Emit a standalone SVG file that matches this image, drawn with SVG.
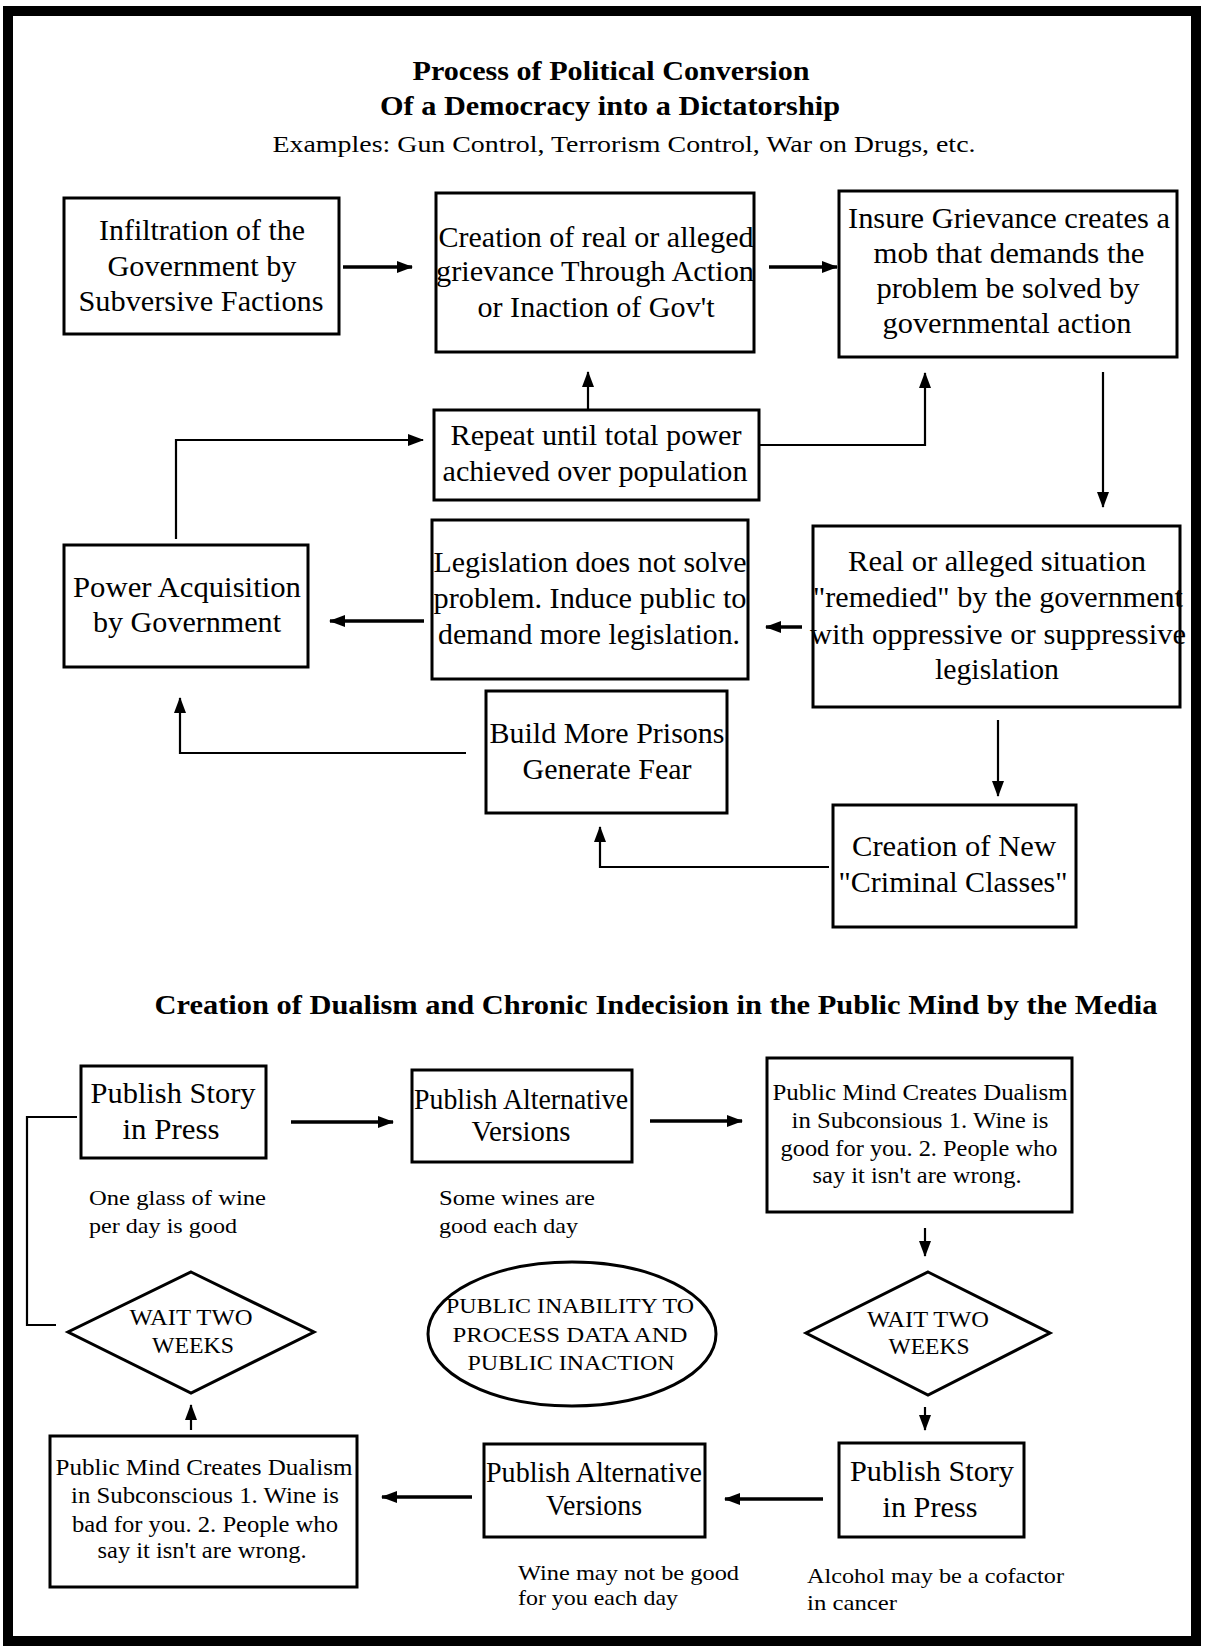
<svg xmlns="http://www.w3.org/2000/svg" width="1209" height="1646" viewBox="0 0 1209 1646">
<style>
text{font-family:"Liberation Serif","Times New Roman",serif;fill:#000}
.t{text-anchor:middle}
.b{font-size:29px}
.s{font-size:24px}
.c{font-size:22px}
.h{font-weight:bold}
.box{fill:#fff;stroke:#000;stroke-width:3}
.ln{fill:none;stroke:#000;stroke-width:2.2}
.thk{stroke-width:3.5}
</style>
<defs>
<marker id="ah" viewBox="0 0 16 12" refX="15" refY="6" markerWidth="16" markerHeight="12" markerUnits="userSpaceOnUse" orient="auto">
<path d="M0,0 L16,6 L0,12 z" fill="#000"/>
</marker>
</defs>
<rect x="0" y="0" width="1209" height="1646" fill="#fff"/>
<rect x="8" y="11" width="1188" height="1630" fill="none" stroke="#000" stroke-width="10"/>

<g id="titles">
<text class="t h" x="611" y="80" font-size="27" textLength="397" lengthAdjust="spacingAndGlyphs">Process of Political Conversion</text>
<text class="t h" x="610" y="115" font-size="27" textLength="460" lengthAdjust="spacingAndGlyphs">Of a Democracy into a Dictatorship</text>
<text class="t" x="624" y="152" font-size="23" textLength="703" lengthAdjust="spacingAndGlyphs">Examples: Gun Control, Terrorism Control, War on Drugs, etc.</text>
<text class="t h" x="656" y="1014" font-size="28" textLength="1003" lengthAdjust="spacingAndGlyphs">Creation of Dualism and Chronic Indecision in the Public Mind by the Media</text>
</g>

<g id="connectors">
<path class="ln thk" d="M343,267 H412" marker-end="url(#ah)"/>
<path class="ln thk" d="M769,267 H837" marker-end="url(#ah)"/>
<path class="ln" d="M588,410 V372" marker-end="url(#ah)"/>
<path class="ln" d="M759,445 H925 V373" marker-end="url(#ah)"/>
<path class="ln" d="M1103,372 V507" marker-end="url(#ah)"/>
<path class="ln" d="M176,539 V440 H423" marker-end="url(#ah)"/>
<path class="ln thk" d="M424,621 H330" marker-end="url(#ah)"/>
<path class="ln thk" d="M802,627 H766" marker-end="url(#ah)"/>
<path class="ln" d="M466,753 H180 V698" marker-end="url(#ah)"/>
<path class="ln" d="M998,720 V796" marker-end="url(#ah)"/>
<path class="ln" d="M829,867 H600 V827" marker-end="url(#ah)"/>
<path class="ln thk" d="M291,1122 H393" marker-end="url(#ah)"/>
<path class="ln thk" d="M650,1121 H742" marker-end="url(#ah)"/>
<path class="ln" d="M925,1228 V1256" marker-end="url(#ah)"/>
<path class="ln" d="M77,1117 H27 V1325 H56"/>
<path class="ln" d="M925,1407 V1430" marker-end="url(#ah)"/>
<path class="ln thk" d="M823,1499 H725" marker-end="url(#ah)"/>
<path class="ln thk" d="M472,1497 H382" marker-end="url(#ah)"/>
<path class="ln" d="M191,1430 V1405" marker-end="url(#ah)"/>
</g>

<g id="infiltration">
<rect class="box" x="64" y="198" width="275" height="136"/>
<text class="t b" x="202" y="240" textLength="206" lengthAdjust="spacingAndGlyphs">Infiltration of the</text>
<text class="t b" x="202" y="276" textLength="189" lengthAdjust="spacingAndGlyphs">Government by</text>
<text class="t b" x="201" y="311" textLength="245" lengthAdjust="spacingAndGlyphs">Subversive Factions</text>
</g>

<g id="creation-grievance">
<rect class="box" x="436" y="193" width="318" height="159"/>
<text class="t b" x="596" y="247" textLength="315" lengthAdjust="spacingAndGlyphs">Creation of real or alleged</text>
<text class="t b" x="595" y="281" textLength="318" lengthAdjust="spacingAndGlyphs">grievance Through Action</text>
<text class="t b" x="596" y="317" textLength="237" lengthAdjust="spacingAndGlyphs">or Inaction of Gov't</text>
</g>

<g id="insure-grievance">
<rect class="box" x="839" y="191" width="338" height="166"/>
<text class="t b" x="1009" y="228" textLength="322" lengthAdjust="spacingAndGlyphs">Insure Grievance creates a</text>
<text class="t b" x="1009" y="263" textLength="271" lengthAdjust="spacingAndGlyphs">mob that demands the</text>
<text class="t b" x="1008" y="298" textLength="263" lengthAdjust="spacingAndGlyphs">problem be solved by</text>
<text class="t b" x="1007" y="333" textLength="249" lengthAdjust="spacingAndGlyphs">governmental action</text>
</g>

<g id="repeat">
<rect class="box" x="434" y="410" width="325" height="90"/>
<text class="t b" x="596" y="445" textLength="291" lengthAdjust="spacingAndGlyphs">Repeat until total power</text>
<text class="t b" x="595" y="481" textLength="305" lengthAdjust="spacingAndGlyphs">achieved over population</text>
</g>

<g id="power-acquisition">
<rect class="box" x="64" y="545" width="244" height="122"/>
<text class="t b" x="187" y="597" textLength="228" lengthAdjust="spacingAndGlyphs">Power Acquisition</text>
<text class="t b" x="187" y="632" textLength="188" lengthAdjust="spacingAndGlyphs">by Government</text>
</g>

<g id="legislation">
<rect class="box" x="432" y="520" width="316" height="159"/>
<text class="t b" x="590" y="572" textLength="313" lengthAdjust="spacingAndGlyphs">Legislation does not solve</text>
<text class="t b" x="590" y="608" textLength="313" lengthAdjust="spacingAndGlyphs">problem. Induce public to</text>
<text class="t b" x="589" y="644" textLength="302" lengthAdjust="spacingAndGlyphs">demand more legislation.</text>
</g>

<g id="remedied">
<rect class="box" x="813" y="526" width="367" height="181"/>
<text class="t b" x="997" y="571" textLength="298" lengthAdjust="spacingAndGlyphs">Real or alleged situation</text>
<text class="t b" x="998" y="607" textLength="370" lengthAdjust="spacingAndGlyphs">"remedied" by the government</text>
<text class="t b" x="998" y="644" textLength="376" lengthAdjust="spacingAndGlyphs">with oppressive or suppressive</text>
<text class="t b" x="997" y="679" textLength="124" lengthAdjust="spacingAndGlyphs">legislation</text>
</g>

<g id="prisons">
<rect class="box" x="486" y="691" width="241" height="122"/>
<text class="t b" x="607" y="743" textLength="235" lengthAdjust="spacingAndGlyphs">Build More Prisons</text>
<text class="t b" x="607" y="779" textLength="169" lengthAdjust="spacingAndGlyphs">Generate Fear</text>
</g>

<g id="criminal-classes">
<rect class="box" x="833" y="805" width="243" height="122"/>
<text class="t b" x="954" y="856" textLength="204" lengthAdjust="spacingAndGlyphs">Creation of New</text>
<text class="t b" x="953" y="892" textLength="229" lengthAdjust="spacingAndGlyphs">"Criminal Classes"</text>
</g>

<g id="publish-story-1">
<rect class="box" x="81" y="1066" width="185" height="92"/>
<text class="t b" x="173" y="1103" font-size="28" textLength="165" lengthAdjust="spacingAndGlyphs">Publish Story</text>
<text class="t b" x="171" y="1139" font-size="28" textLength="97" lengthAdjust="spacingAndGlyphs">in Press</text>
<text class="c" x="89" y="1205" textLength="177" lengthAdjust="spacingAndGlyphs">One glass of wine</text>
<text class="c" x="89" y="1233" textLength="148" lengthAdjust="spacingAndGlyphs">per day is good</text>
</g>

<g id="publish-alt-1">
<rect class="box" x="412" y="1070" width="220" height="92"/>
<text class="t b" x="521" y="1109" font-size="27" textLength="214" lengthAdjust="spacingAndGlyphs">Publish Alternative</text>
<text class="t b" x="521" y="1141" font-size="27" textLength="99" lengthAdjust="spacingAndGlyphs">Versions</text>
<text class="c" x="439" y="1205" textLength="156" lengthAdjust="spacingAndGlyphs">Some wines are</text>
<text class="c" x="439" y="1233" textLength="139" lengthAdjust="spacingAndGlyphs">good each day</text>
</g>

<g id="public-mind-good">
<rect class="box" x="767" y="1058" width="305" height="154"/>
<text class="t s" x="920" y="1100" textLength="295" lengthAdjust="spacingAndGlyphs">Public Mind Creates Dualism</text>
<text class="t s" x="920" y="1128" textLength="257" lengthAdjust="spacingAndGlyphs">in Subconsious 1. Wine is</text>
<text class="t s" x="919" y="1156" textLength="277" lengthAdjust="spacingAndGlyphs">good for you. 2. People who</text>
<text class="t s" x="917" y="1183" textLength="209" lengthAdjust="spacingAndGlyphs">say it isn't are wrong.</text>
</g>

<g id="wait-left">
<polygon class="box" points="191,1272 314,1332 191,1393 68,1332"/>
<text class="t" x="191" y="1325" font-size="23" textLength="123" lengthAdjust="spacingAndGlyphs">WAIT TWO</text>
<text class="t" x="193" y="1353" font-size="23" textLength="82" lengthAdjust="spacingAndGlyphs">WEEKS</text>
</g>

<g id="public-inability">
<ellipse class="box" cx="572" cy="1334" rx="144" ry="72"/>
<text class="t" x="570" y="1313" font-size="21" textLength="248" lengthAdjust="spacingAndGlyphs">PUBLIC INABILITY TO</text>
<text class="t" x="570" y="1342" font-size="21" textLength="235" lengthAdjust="spacingAndGlyphs">PROCESS DATA AND</text>
<text class="t" x="571" y="1370" font-size="21" textLength="207" lengthAdjust="spacingAndGlyphs">PUBLIC INACTION</text>
</g>

<g id="wait-right">
<polygon class="box" points="928,1272 1050,1333 928,1395 806,1333"/>
<text class="t" x="928" y="1327" font-size="23" textLength="122" lengthAdjust="spacingAndGlyphs">WAIT TWO</text>
<text class="t" x="929" y="1354" font-size="23" textLength="81" lengthAdjust="spacingAndGlyphs">WEEKS</text>
</g>

<g id="publish-story-2">
<rect class="box" x="839" y="1443" width="185" height="94"/>
<text class="t b" x="932" y="1481" font-size="28" textLength="164" lengthAdjust="spacingAndGlyphs">Publish Story</text>
<text class="t b" x="930" y="1517" font-size="28" textLength="95" lengthAdjust="spacingAndGlyphs">in Press</text>
<text class="c" x="807" y="1583" textLength="257" lengthAdjust="spacingAndGlyphs">Alcohol may be a cofactor</text>
<text class="c" x="807" y="1610" textLength="90" lengthAdjust="spacingAndGlyphs">in cancer</text>
</g>

<g id="publish-alt-2">
<rect class="box" x="484" y="1444" width="221" height="93"/>
<text class="t b" x="594" y="1482" font-size="27" textLength="216" lengthAdjust="spacingAndGlyphs">Publish Alternative</text>
<text class="t b" x="594" y="1515" font-size="27" textLength="96" lengthAdjust="spacingAndGlyphs">Versions</text>
<text class="c" x="518" y="1580" textLength="221" lengthAdjust="spacingAndGlyphs">Wine may not be good</text>
<text class="c" x="518" y="1605" textLength="160" lengthAdjust="spacingAndGlyphs">for you each day</text>
</g>

<g id="public-mind-bad">
<rect class="box" x="50" y="1436" width="307" height="151"/>
<text class="t s" x="204" y="1475" textLength="297" lengthAdjust="spacingAndGlyphs">Public Mind Creates Dualism</text>
<text class="t s" x="205" y="1503" textLength="268" lengthAdjust="spacingAndGlyphs">in Subconscious 1. Wine is</text>
<text class="t s" x="205" y="1532" textLength="266" lengthAdjust="spacingAndGlyphs">bad for you. 2. People who</text>
<text class="t s" x="202" y="1558" textLength="209" lengthAdjust="spacingAndGlyphs">say it isn't are wrong.</text>
</g>
</svg>
